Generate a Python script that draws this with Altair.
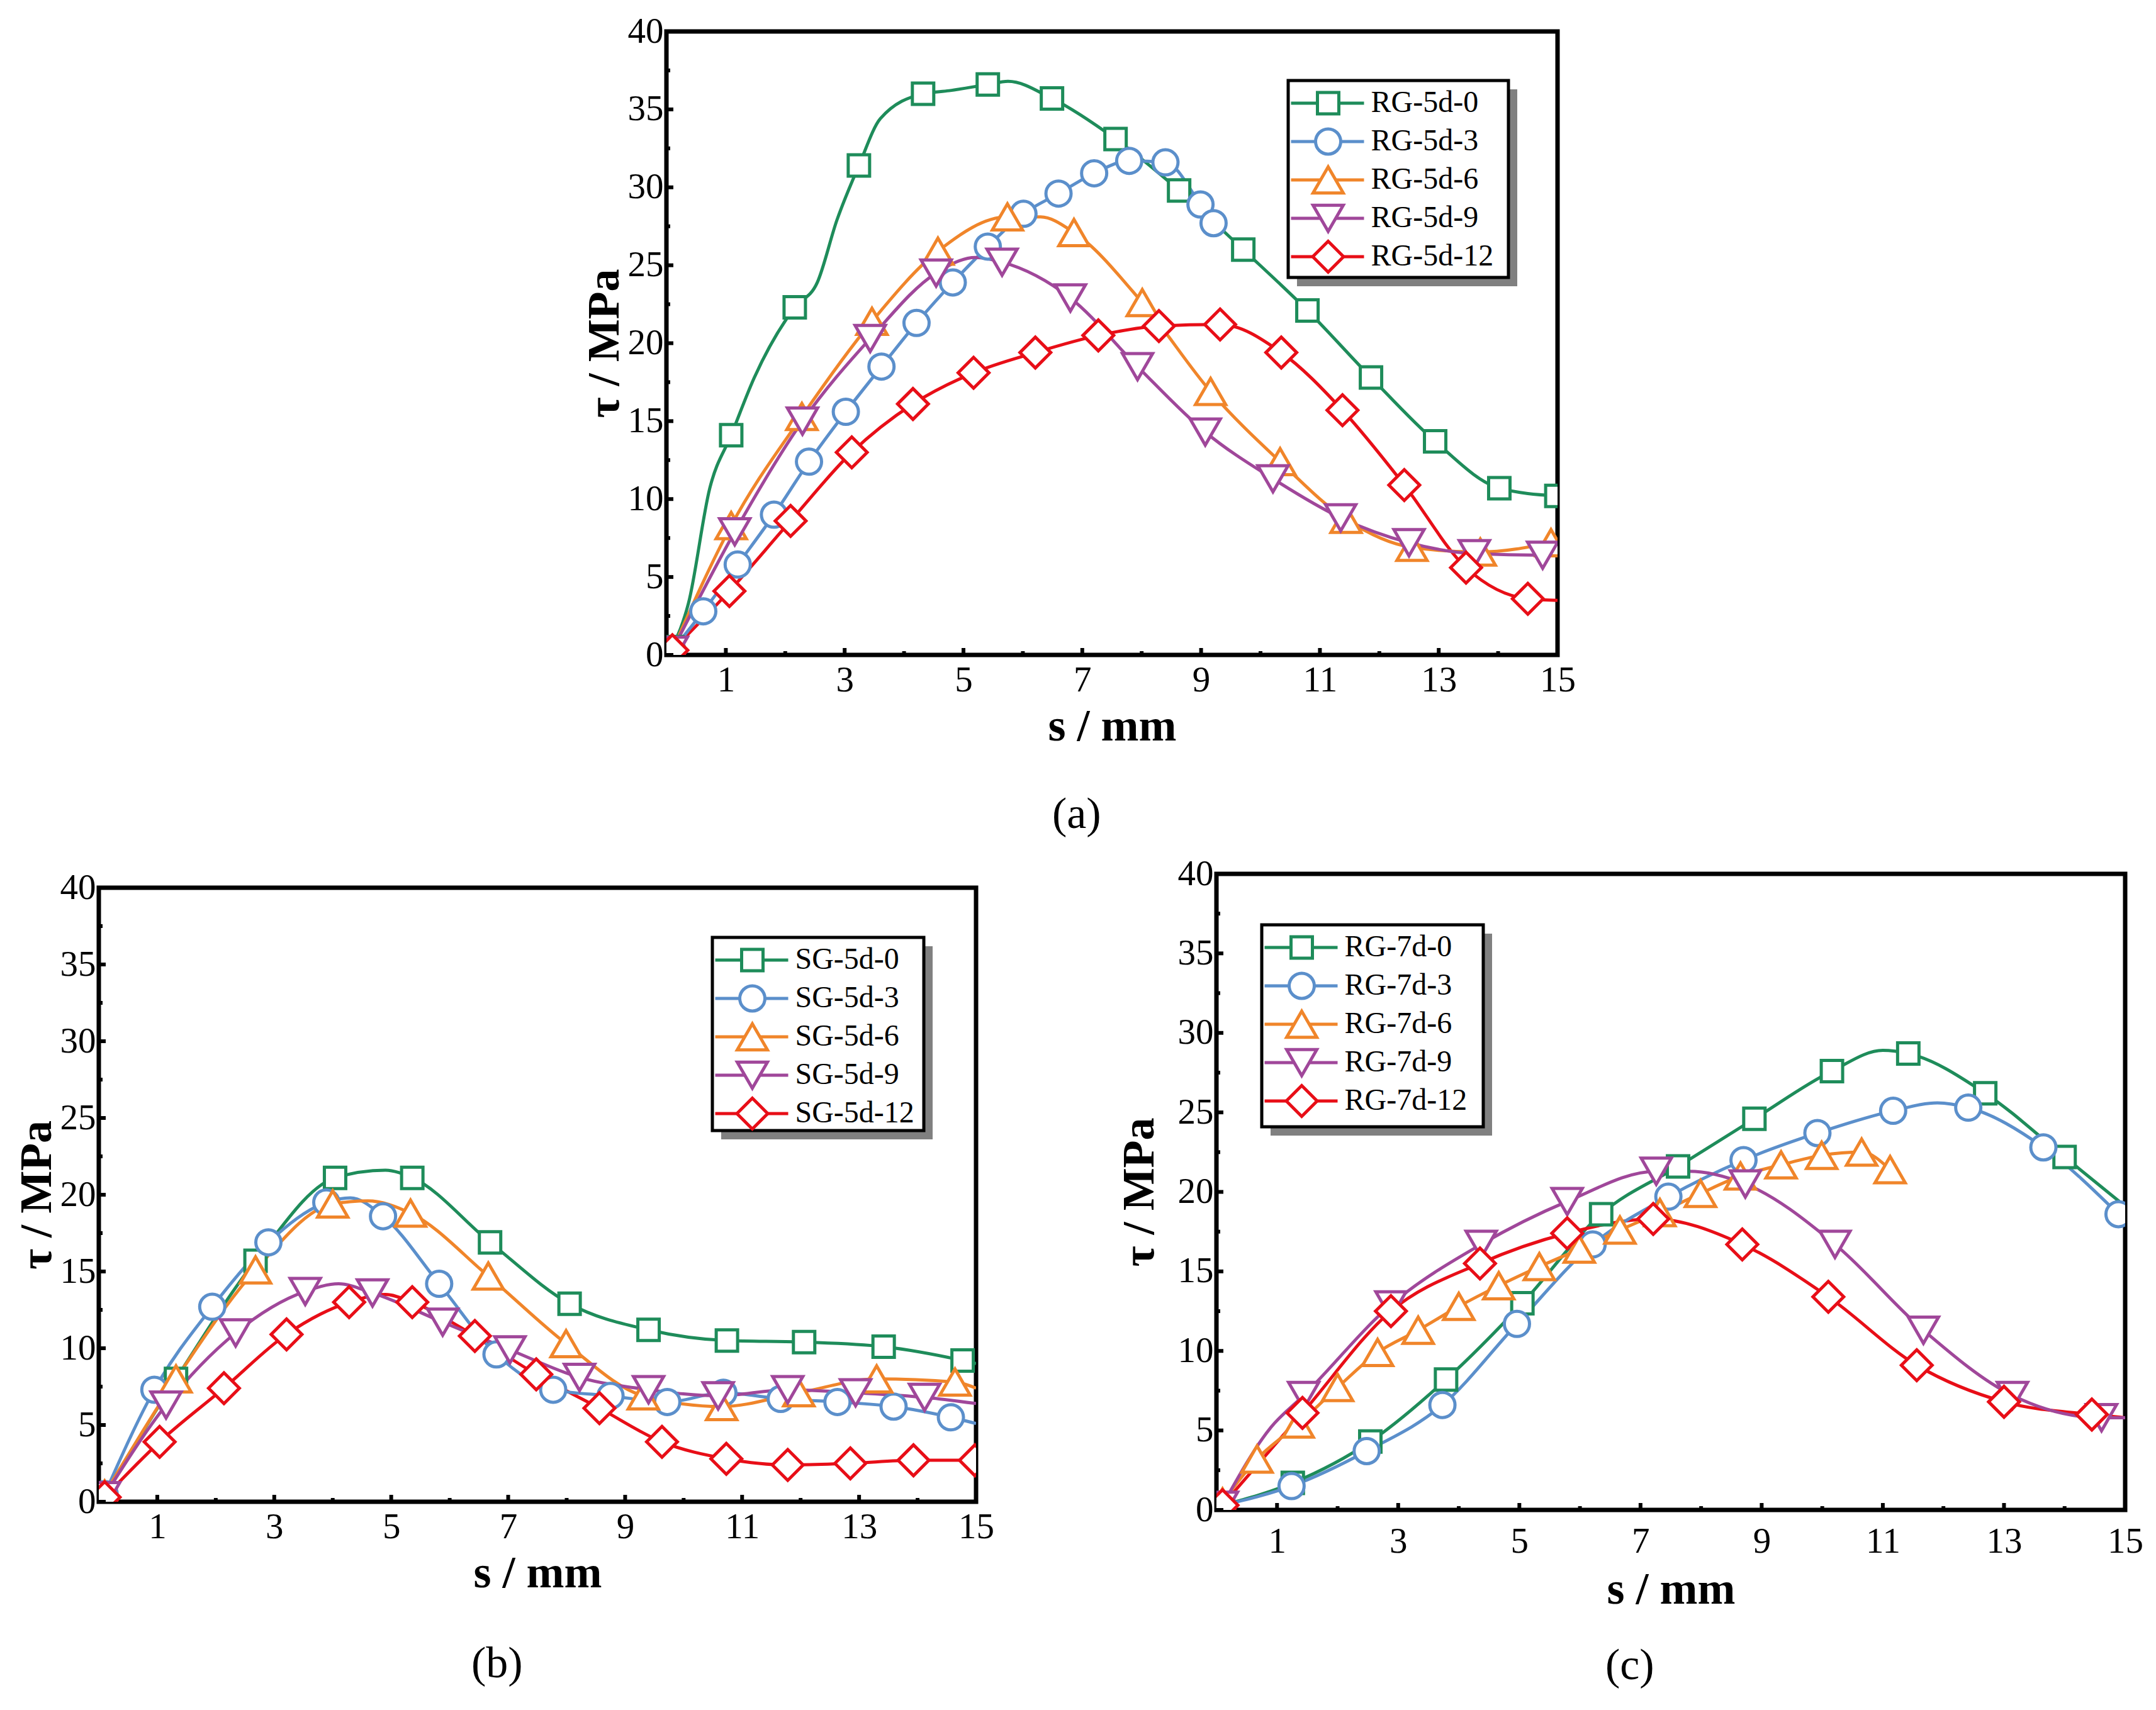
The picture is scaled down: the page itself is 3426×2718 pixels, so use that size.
import altair as alt
import pandas as pd

FONT = "Liberation Serif"
COLORS = ["#1E8C5A", "#5B8FCB", "#F0852A", "#A0479A", "#E80E17"]
SHAPES = ["square", "circle", "triangle-up", "triangle-down", "diamond"]
SIZES = [1156, 1600, 2304, 2304, 2400]

X_LABELS = [1, 3, 5, 7, 9, 11, 13, 15]
X_MINOR = [2, 4, 6, 8, 10, 12, 14]
Y_LABELS = [0, 5, 10, 15, 20, 25, 30, 35, 40]
Y_MINOR = [2.5, 7.5, 12.5, 17.5, 22.5, 27.5, 32.5, 37.5]

# ---------------- panel (a) ----------------
A_NAMES = ["RG-5d-0", "RG-5d-3", "RG-5d-6", "RG-5d-9", "RG-5d-12"]
A0_S = [0.1, 1.09, 2.16, 3.24, 4.32, 5.41, 6.49, 7.56, 8.63, 9.71, 10.79, 11.86, 12.94, 14.02, 14.98]
A0_T = [0.5, 14.1, 22.3, 31.4, 36.0, 36.6, 35.7, 33.1, 29.8, 26.0, 22.1, 17.8, 13.7, 10.7, 10.2]
A0_CS = [0.37, 0.73, 1.48, 2.54, 2.87, 3.6, 4.76, 5.75]
A0_CT = [3.3, 10.7, 17.8, 23.9, 27.9, 34.4, 36.2, 36.8]
A3_S = [0.1, 0.62, 1.20, 1.81, 2.40, 3.02, 3.62, 4.21, 4.82, 5.41, 6.01, 6.60, 7.20, 7.79, 8.40, 8.99, 9.21]
A3_T = [0.3, 2.8, 5.8, 9.0, 12.4, 15.6, 18.5, 21.3, 23.9, 26.2, 28.3, 29.6, 30.9, 31.7, 31.6, 28.9, 27.7]
A3_CS = []
A3_CT = []
A6_S = [0.1, 1.09, 2.28, 3.46, 4.57, 5.74, 6.86, 8.01, 9.16, 10.33, 11.44, 12.55, 13.7, 14.89]
A6_T = [0.3, 8.3, 15.3, 21.4, 25.9, 28.1, 27.1, 22.6, 16.9, 12.4, 8.7, 6.9, 6.6, 7.2]
A6_CS = [6.3]
A6_CT = [28.1]
A9_S = [0.1, 1.15, 2.29, 3.43, 4.54, 5.65, 6.8, 7.93, 9.07, 10.21, 11.35, 12.5, 13.6, 14.75]
A9_T = [0.3, 7.9, 15.0, 20.3, 24.5, 25.2, 22.9, 18.5, 14.3, 11.3, 8.8, 7.2, 6.5, 6.4]
A9_CS = [5.2, 15.0]
A9_CT = [25.5, 6.5]
A12_S = [0.1, 1.06, 2.09, 3.12, 4.15, 5.17, 6.21, 7.27, 8.29, 9.32, 10.35, 11.38, 12.42, 13.46, 14.5]
A12_T = [0.3, 4.1, 8.6, 13.0, 16.1, 18.1, 19.4, 20.5, 21.1, 21.2, 19.4, 15.7, 10.9, 5.6, 3.6]
A12_CS = [15.0]
A12_CT = [3.5]

# ---------------- panel (b) ----------------
B_NAMES = ["SG-5d-0", "SG-5d-3", "SG-5d-6", "SG-5d-9", "SG-5d-12"]
B0_S = [0.1, 1.32, 2.68, 4.04, 5.36, 6.69, 8.05, 9.4, 10.74, 12.06, 13.42, 14.77]
B0_T = [0.5, 8.0, 15.7, 21.1, 21.1, 16.9, 12.9, 11.2, 10.5, 10.4, 10.1, 9.2]
B0_CS = [4.9, 15.0]
B0_CT = [21.6, 9.0]
B3_S = [0.1, 0.95, 1.94, 2.9, 3.89, 4.86, 5.82, 6.8, 7.77, 8.75, 9.72, 10.68, 11.66, 12.63, 13.59, 14.57]
B3_T = [0.5, 7.3, 12.7, 16.9, 19.5, 18.6, 14.2, 9.6, 7.3, 6.9, 6.5, 7.1, 6.7, 6.5, 6.2, 5.5]
B3_CS = [4.3, 15.0]
B3_CT = [19.8, 5.1]
B6_S = [0.1, 1.32, 2.68, 4.0, 5.33, 6.66, 7.99, 9.31, 10.65, 11.97, 13.3, 14.64]
B6_T = [0.5, 8.0, 15.1, 19.4, 18.8, 14.7, 10.3, 6.9, 6.2, 7.1, 8.0, 7.8]
B6_CS = [4.6, 15.0]
B6_CT = [19.6, 7.4]
B9_S = [0.1, 1.15, 2.34, 3.53, 4.68, 5.88, 7.03, 8.22, 9.4, 10.59, 11.78, 12.94, 14.12]
B9_T = [0.4, 6.3, 11.0, 13.7, 13.6, 11.7, 9.9, 8.1, 7.3, 6.9, 7.3, 7.1, 6.8]
B9_CS = [4.1, 15.0]
B9_CT = [14.2, 6.4]
B12_S = [0.1, 1.04, 2.14, 3.21, 4.28, 5.36, 6.43, 7.48, 8.56, 9.63, 10.73, 11.78, 12.85, 13.93, 14.98]
B12_T = [0.3, 3.9, 7.4, 10.9, 13.0, 13.0, 10.8, 8.3, 6.1, 3.9, 2.8, 2.4, 2.5, 2.7, 2.7]
B12_CS = [4.9]
B12_CT = [13.5]

# ---------------- panel (c) ----------------
C_NAMES = ["RG-7d-0", "RG-7d-3", "RG-7d-6", "RG-7d-9", "RG-7d-12"]
C0_S = [0.1, 1.26, 2.54, 3.79, 5.05, 6.35, 7.62, 8.88, 10.16, 11.42, 12.69, 14.0]
C0_T = [0.3, 1.7, 4.3, 8.2, 13.0, 18.6, 21.6, 24.6, 27.6, 28.7, 26.2, 22.2]
C0_CS = [11.0, 15.0]
C0_CT = [28.9, 19.1]
C3_S = [0.1, 1.24, 2.48, 3.73, 4.96, 6.21, 7.46, 8.7, 9.92, 11.17, 12.41, 13.65, 14.89]
C3_T = [0.3, 1.5, 3.7, 6.6, 11.7, 16.7, 19.7, 22.0, 23.7, 25.1, 25.3, 22.8, 18.6]
C3_CS = [11.9]
C3_CT = [25.6]
C6_S = [0.1, 0.67, 1.35, 2.0, 2.66, 3.33, 4.0, 4.66, 5.33, 5.99, 6.66, 7.32, 7.99, 8.65, 9.32, 9.99, 10.65, 11.12]
C6_T = [0.5, 3.2, 5.4, 7.7, 9.9, 11.3, 12.8, 14.1, 15.3, 16.4, 17.6, 18.7, 19.9, 21.0, 21.7, 22.3, 22.5, 21.4]
C6_CS = []
C6_CT = []
C9_S = [0.1, 1.44, 2.88, 4.37, 5.79, 7.26, 8.73, 10.21, 11.67, 13.14, 14.61]
C9_T = [0.3, 7.2, 12.9, 16.7, 19.4, 21.3, 20.5, 16.7, 11.3, 7.2, 5.8]
C9_CS = [0.9, 7.8, 15.0]
C9_CT = [5.2, 21.3, 5.8]
C12_S = [0.1, 1.42, 2.88, 4.35, 5.79, 7.21, 8.68, 10.1, 11.56, 13.0, 14.45]
C12_T = [0.3, 6.1, 12.5, 15.5, 17.4, 18.3, 16.7, 13.4, 9.1, 6.8, 6.0]
C12_CS = [15.0]
C12_CT = [5.8]

IND = dict(color="independent", shape="independent", size="independent")


def panel(names, series, W, H, box, label, label_offset, label_dx, xlab_pad, xtitle_pad, ytitle_pad):
    bx, by, bw, bh = box
    mrows, lrows = [], []
    for name, (ms, mt, cs, ct) in zip(names, series):
        for s, t in zip(ms, mt):
            mrows.append({"series": name, "s": s, "tau": t})
            lrows.append({"line": name, "s": s, "tau": t})
        for s, t in zip(cs, ct):
            lrows.append({"line": name, "s": s, "tau": t})
    mdf = pd.DataFrame(mrows)
    ldf = pd.DataFrame(lrows).sort_values(["line", "s"])

    xsc = alt.Scale(domain=[0, 15], nice=False, zero=False)
    ysc = alt.Scale(domain=[0, 40], nice=False)
    xax = alt.Axis(values=X_LABELS, format="d", labelFont=FONT, labelFontSize=57, labelColor="black",
                   labelFlush=False, ticks=False, domain=False, grid=False, labelPadding=xlab_pad,
                   titleFont=FONT, titleFontSize=72, titleFontWeight="bold", titleColor="black",
                   titlePadding=xtitle_pad)
    yax = alt.Axis(values=Y_LABELS, format="d", labelFont=FONT, labelFontSize=57, labelColor="black",
                   ticks=False, domain=False, grid=False, labelPadding=5,
                   titleFont=FONT, titleFontSize=72, titleFontWeight="bold", titleColor="black",
                   titlePadding=ytitle_pad)
    X = lambda f: alt.X(f, scale=xsc, axis=xax, title="s / mm")
    Y = lambda f: alt.Y(f, scale=ysc, axis=yax, title="τ / MPa")

    lx = bx + 2
    ly = by + 5.5
    line_leg = alt.Legend(orient="none", legendX=lx, legendY=ly, title=None, symbolType="stroke",
                          symbolSize=116 * 116, symbolStrokeWidth=5, labelFont=FONT, labelFontSize=48,
                          labelColor="black", labelLimit=600, labelOffset=8.5, clipHeight=61,
                          rowPadding=0, padding=0)
    pt_leg = alt.Legend(orient="none", legendX=lx, legendY=ly, title=None, symbolSize=1500,
                        symbolStrokeWidth=5, symbolFillColor="white", symbolOffset=34.5,
                        labelFont=FONT, labelFontSize=48, labelColor="black", labelLimit=600,
                        labelExpr="''", labelOffset=77.5, clipHeight=61, rowPadding=0, padding=0)

    ytick_major = alt.Chart(pd.DataFrame({"tau": Y_LABELS})).mark_rule(color="black", strokeWidth=6).encode(
        y=Y("tau:Q"), x=alt.value(0), x2=alt.value(11))
    ytick_minor = alt.Chart(pd.DataFrame({"tau": Y_MINOR})).mark_rule(color="black", strokeWidth=6).encode(
        y=Y("tau:Q"), x=alt.value(0), x2=alt.value(6))
    xtick_major = alt.Chart(pd.DataFrame({"s": X_LABELS})).mark_rule(color="black", strokeWidth=6).encode(
        x=X("s:Q"), y=alt.value(H), y2=alt.value(H - 11))
    xtick_minor = alt.Chart(pd.DataFrame({"s": X_MINOR})).mark_rule(color="black", strokeWidth=6).encode(
        x=X("s:Q"), y=alt.value(H), y2=alt.value(H - 6))

    lines = alt.Chart(ldf).mark_line(interpolate="monotone", strokeWidth=5, clip=True).encode(
        x=X("s:Q"), y=Y("tau:Q"),
        color=alt.Color("line:N", scale=alt.Scale(domain=names, range=COLORS), legend=line_leg),
    )
    pts = alt.Chart(mdf).mark_point(filled=False, fill="white", fillOpacity=1, opacity=1, strokeWidth=5,
                                    clip=True).encode(
        x=X("s:Q"), y=Y("tau:Q"),
        color=alt.Color("series:N", scale=alt.Scale(domain=names, range=COLORS), legend=pt_leg),
        shape=alt.Shape("series:N", scale=alt.Scale(domain=names, range=SHAPES), legend=pt_leg),
        size=alt.Size("series:N", scale=alt.Scale(type="ordinal", domain=names, range=SIZES), legend=None),
    )
    one = pd.DataFrame({"k": [0]})
    shadow = alt.Chart(one).mark_rect(color="#808080").encode(
        x=alt.value(bx + 14), x2=alt.value(bx + bw + 14), y=alt.value(by + 14), y2=alt.value(by + bh + 14))
    frame = alt.Chart(one).mark_rect(fill="white", stroke="black", strokeWidth=5).encode(
        x=alt.value(bx), x2=alt.value(bx + bw), y=alt.value(by), y2=alt.value(by + bh))

    return alt.layer(lines, pts, ytick_major, ytick_minor, xtick_major, xtick_minor, shadow, frame).resolve_scale(
        **IND).resolve_legend(**IND).properties(
        width=W, height=H,
        title=alt.TitleParams(label, orient="bottom", frame="bounds", anchor="middle", dx=label_dx,
                              font=FONT, fontSize=70, fontWeight="normal",
                              color="black", offset=label_offset))


A = panel(A_NAMES, [(A0_S, A0_T, A0_CS, A0_CT), (A3_S, A3_T, A3_CS, A3_CT), (A6_S, A6_T, A6_CS, A6_CT),
                    (A9_S, A9_T, A9_CS, A9_CT), (A12_S, A12_T, A12_CS, A12_CT)],
          1416, 991, (988, 78, 350, 313), "(a)", 71, -3, 12, 10, 0)
B = panel(B_NAMES, [(B0_S, B0_T, B0_CS, B0_CT), (B3_S, B3_T, B3_CS, B3_CT), (B6_S, B6_T, B6_CS, B6_CT),
                    (B9_S, B9_T, B9_CS, B9_CT), (B12_S, B12_T, B12_CS, B12_CT)],
          1394, 976, (975, 79, 336, 307), "(b)", 75, -11, 12, 10, 0)
C = panel(C_NAMES, [(C0_S, C0_T, C0_CS, C0_CT), (C3_S, C3_T, C3_CS, C3_CT), (C6_S, C6_T, C6_CS, C6_CT),
                    (C9_S, C9_T, C9_CS, C9_CT), (C12_S, C12_T, C12_CS, C12_CT)],
          1444, 1011, (72, 81, 352, 321), "(c)", 52, 0, 22, 13, 24)


def spacer(h):
    return alt.Chart(pd.DataFrame({"k": [0]})).mark_point(opacity=0, size=1).encode(
        x=alt.value(0), y=alt.value(0)).properties(width=1, height=h,
                                                   view=alt.ViewBackground(stroke="transparent"))


B_col = alt.vconcat(spacer(23), B, spacing=0).resolve_scale(**IND).resolve_legend(**IND)
C_col = alt.vconcat(spacer(1), C, spacing=0).resolve_scale(**IND).resolve_legend(**IND)
bottom = alt.hconcat(B_col, C_col, spacing=187).resolve_scale(**IND).resolve_legend(**IND)

chart = alt.vconcat(A, bottom, spacing=13, center=True).resolve_scale(**IND).resolve_legend(**IND).properties(
    padding={"left": 10, "top": 9, "right": 5, "bottom": 5}, background="white"
).configure_view(stroke="black", strokeWidth=7)

chart.save("out.html", embed_options={"renderer": "svg", "actions": False})
